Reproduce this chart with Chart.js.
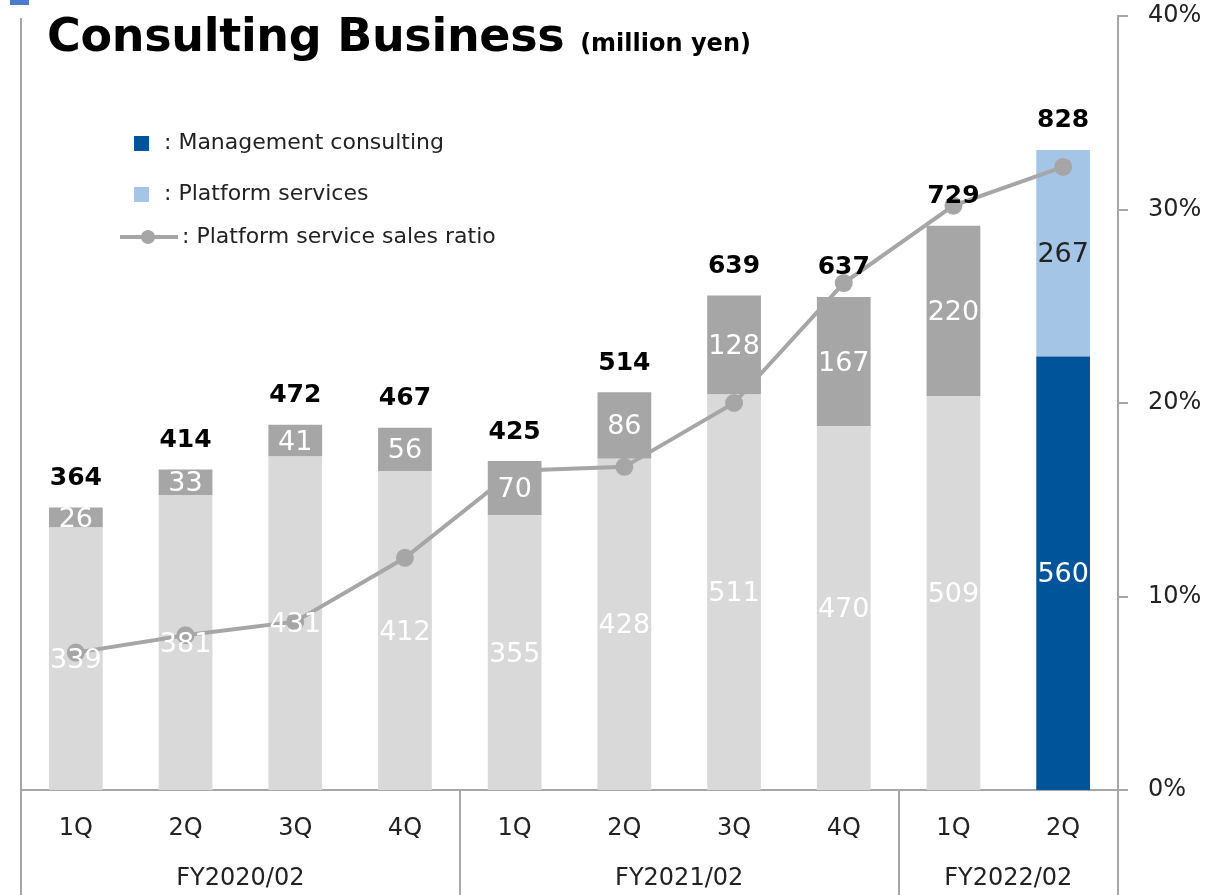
<!DOCTYPE html>
<html>
<head>
<meta charset="utf-8">
<script src="https://cdn.jsdelivr.net/npm/chart.js@4"></script>
<style>
    body { margin: 0; background: #fff; font-family: 'DejaVu Sans', sans-serif; }
    #wrap { position: relative; width: 1208px; height: 895px; overflow: hidden; }
    #chart { position: absolute; left: 0; top: 0; }
    .mark { position: absolute; left: 10px; top: 0; width: 19px; height: 5px; background: #4a7bd0; }
    .title { position: absolute; left: 47px; top: 8px; font-weight: bold; font-size: 46px; color: #000; white-space: nowrap; letter-spacing: -0.3px; }
    .title small { font-size: 24px; letter-spacing: 0; }
    .legend { position: absolute; font-size: 22px; color: #222; white-space: nowrap; }
    .sq { position: absolute; width: 15px; height: 15px; }
</style>
</head>
<body>
<div id="wrap">
    <canvas id="chart" width="1208" height="895"></canvas>
    <div class="mark"></div>
    <div class="title">Consulting Business <small>(million yen)</small></div>

    <div class="sq" style="left:134px;top:136px;background:#00559a"></div>
    <div class="legend" style="left:164px;top:129px">: Management consulting</div>
    <div class="sq" style="left:134px;top:187px;background:#a4c5e6"></div>
    <div class="legend" style="left:164px;top:180px">: Platform services</div>
    <svg style="position:absolute;left:118px;top:228px" width="62" height="18">
        <line x1="2" y1="9" x2="60" y2="9" stroke="#a6a6a6" stroke-width="4"/>
        <circle cx="30" cy="9" r="7" fill="#a6a6a6"/>
    </svg>
    <div class="legend" style="left:182px;top:223px">: Platform service sales ratio</div>
</div>

<script>
// Data
const quarters = ['1Q', '2Q', '3Q', '4Q', '1Q', '2Q', '3Q', '4Q', '1Q', '2Q'];
const fiscalYears = [
    { label: 'FY2020/02', from: 0, to: 3 },
    { label: 'FY2021/02', from: 4, to: 7 },
    { label: 'FY2022/02', from: 8, to: 9 }
];
const managementConsulting = [339, 381, 431, 412, 355, 428, 511, 470, 509, 560];
const platformServices = [26, 33, 41, 56, 70, 86, 128, 167, 220, 267];
const totalSales = [364, 414, 472, 467, 425, 514, 639, 637, 729, 828];
const platformRatio = [7.1, 8.0, 8.7, 12.0, 16.5, 16.7, 20.0, 26.2, 30.2, 32.2];
const ratioTicks = [0, 10, 20, 30, 40];

const FONT = "'DejaVu Sans', sans-serif";
const AXIS_GRAY = '#a6a6a6';

// Last quarter highlighted in blue
const mgmtColors = managementConsulting.map((v, i) => i === managementConsulting.length - 1 ? '#00559a' : '#d9d9d9');
const platColors = platformServices.map((v, i) => i === platformServices.length - 1 ? '#a4c5e6' : '#a6a6a6');

/**
 * Draws segment values, totals, the fiscal year row and the frame lines
 */
const labelPlugin = {
    id: 'labels',
    afterDatasetsDraw(chart) {
        const ctx = chart.ctx;
        const mgmtMeta = chart.getDatasetMeta(0);
        const platMeta = chart.getDatasetMeta(1);
        const last = quarters.length - 1;

        ctx.save();
        ctx.textAlign = 'center';
        ctx.textBaseline = 'middle';

        // Segment values
        ctx.font = '27px ' + FONT;
        mgmtMeta.data.forEach((bar, i) => {
            ctx.fillStyle = '#fff';
            ctx.fillText(managementConsulting[i], bar.x, (bar.y + bar.base) / 2 + 2);
        });
        platMeta.data.forEach((bar, i) => {
            ctx.fillStyle = i === last ? '#222' : '#fff';
            ctx.fillText(platformServices[i], bar.x, (bar.y + bar.base) / 2 + 2);
        });

        // Totals above bars
        ctx.font = 'bold 25px ' + FONT;
        ctx.fillStyle = '#000';
        platMeta.data.forEach((bar, i) => {
            ctx.fillText(totalSales[i], bar.x, bar.y - 29);
        });
        ctx.restore();
    },
    afterDraw(chart) {
        const ctx = chart.ctx;
        const area = chart.chartArea;
        const x = chart.scales.x;
        const step = (x.right - x.left) / quarters.length;
        const H = chart.height;

        ctx.save();
        ctx.strokeStyle = AXIS_GRAY;
        ctx.lineWidth = 2;

        // Left frame line
        ctx.beginPath();
        ctx.moveTo(area.left, 18);
        ctx.lineTo(area.left, H);
        ctx.stroke();

        // Group separators under the axis
        const seps = [area.left, area.right];
        fiscalYears.forEach(fy => seps.push(x.left + (fy.to + 1) * step));
        seps.forEach(px => {
            ctx.beginPath();
            ctx.moveTo(Math.round(px), area.bottom);
            ctx.lineTo(Math.round(px), H);
            ctx.stroke();
        });

        // Fiscal year labels
        ctx.font = '24px ' + FONT;
        ctx.fillStyle = '#222';
        ctx.textAlign = 'center';
        ctx.textBaseline = 'middle';
        fiscalYears.forEach(fy => {
            const mid = x.left + ((fy.from + fy.to + 1) / 2) * step;
            ctx.fillText(fy.label, mid, 879);
        });
        ctx.restore();
    }
};

new Chart(document.getElementById('chart'), {
    type: 'bar',
    data: {
        labels: quarters,
        datasets: [
            {
                label: 'Management consulting',
                data: managementConsulting,
                backgroundColor: mgmtColors,
                stack: 'sales',
                yAxisID: 'y',
                order: 2
            },
            {
                label: 'Platform services',
                data: platformServices,
                backgroundColor: platColors,
                stack: 'sales',
                yAxisID: 'y',
                order: 2
            },
            {
                type: 'line',
                label: 'Platform service sales ratio',
                data: platformRatio,
                borderColor: '#a6a6a6',
                backgroundColor: '#a6a6a6',
                borderWidth: 4,
                pointRadius: 7,
                pointHoverRadius: 7,
                tension: 0,
                yAxisID: 'y1',
                order: 1
            }
        ]
    },
    options: {
        responsive: false,
        animation: false,
        categoryPercentage: 1,
        barPercentage: 0.49,
        layout: { padding: { left: 21, top: 16, right: 0, bottom: 0 } },
        plugins: {
            legend: { display: false },
            tooltip: { enabled: false }
        },
        scales: {
            x: {
                stacked: true,
                grid: { display: false },
                border: { display: true, color: AXIS_GRAY, width: 2 },
                ticks: {
                    color: '#222',
                    font: { family: FONT, size: 24 },
                    padding: 16,
                    maxRotation: 0
                },
                afterFit(scale) {
                    scale.height = 105;
                    scale.paddingLeft = 0;
                    scale.paddingRight = 0;
                }
            },
            y: {
                stacked: true,
                display: false,
                min: 0,
                max: 1000
            },
            y1: {
                position: 'right',
                min: 0,
                max: 40,
                afterBuildTicks(scale) {
                    scale.ticks = ratioTicks.map(v => ({ value: v }));
                },
                grid: {
                    drawOnChartArea: false,
                    drawTicks: true,
                    tickLength: 10,
                    color: AXIS_GRAY,
                    lineWidth: 2
                },
                border: { display: true, color: AXIS_GRAY, width: 2 },
                ticks: {
                    color: '#222',
                    font: { family: FONT, size: 24 },
                    padding: 20,
                    callback: v => v + '%'
                },
                afterFit(scale) {
                    scale.width = 90;
                    scale.paddingTop = 0;
                    scale.paddingBottom = 0;
                }
            }
        }
    },
    plugins: [labelPlugin]
});
</script>
</body>
</html>
